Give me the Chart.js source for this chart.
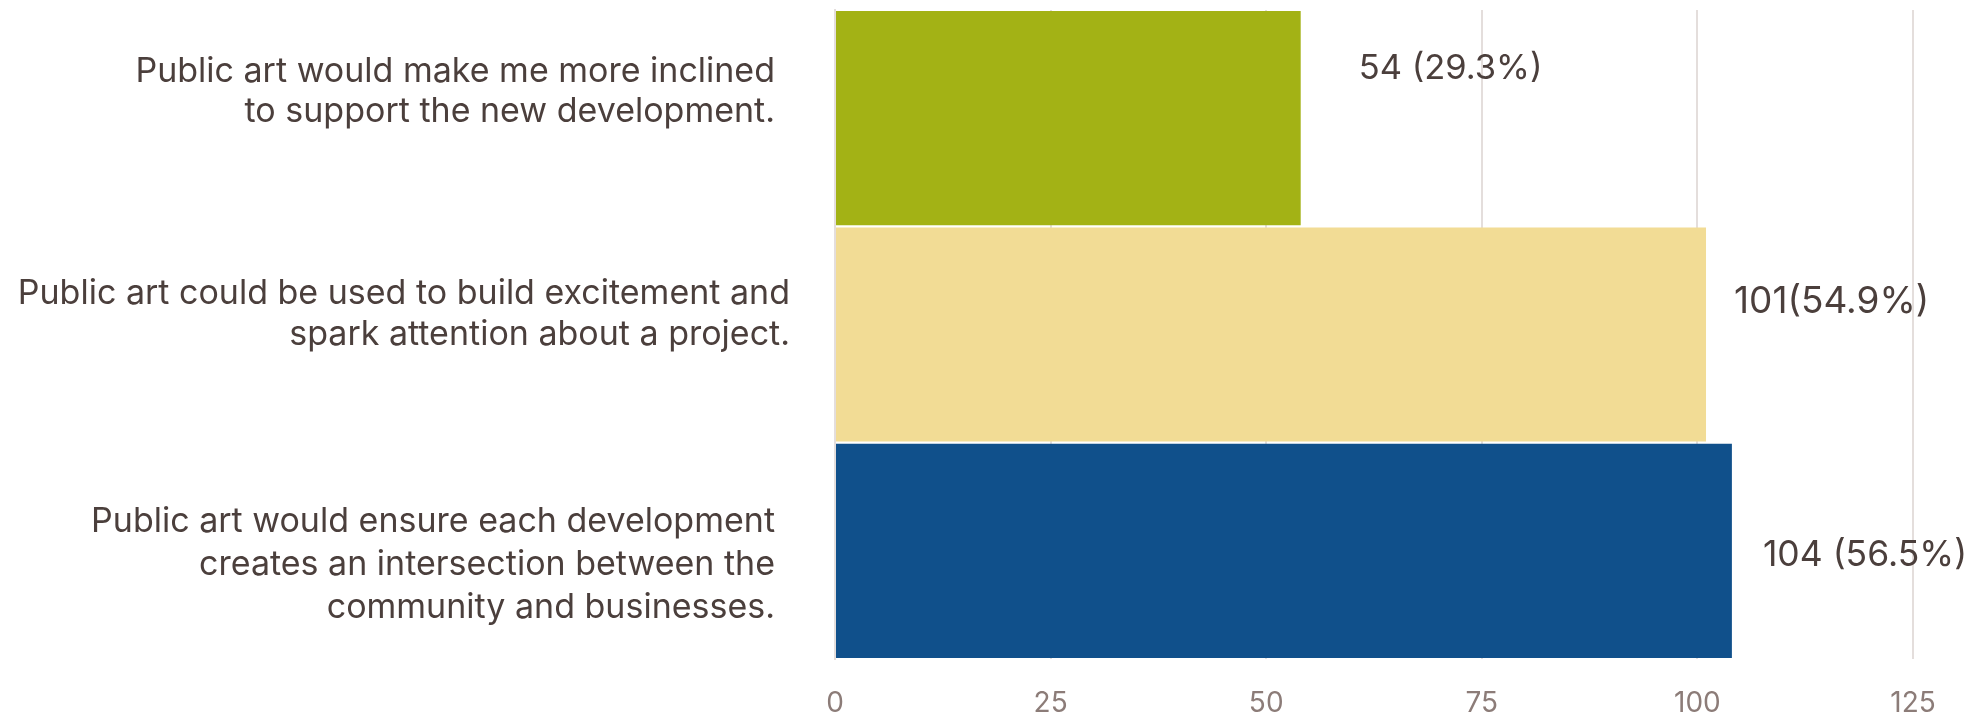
<!DOCTYPE html>
<html>
<head>
<meta charset="utf-8">
<script src="https://cdn.jsdelivr.net/npm/chart.js@4"></script>
<style>
  html, body { margin: 0; padding: 0; background: #ffffff; }
  #wrap { width: 1972px; height: 714px; }
</style>
</head>
<body>
<div id="wrap"><canvas id="chart" width="1972" height="714"></canvas></div>
<script>
// Survey statements (one per bar, top to bottom)
const statements = [
  ['Public art would make me more inclined', 'to support the new development.'],
  ['Public art could be used to build excitement and', 'spark attention about a project.'],
  ['Public art would ensure each development', 'creates an intersection between the', 'community and businesses.']
];
// Number of respondents agreeing
const responses = [54, 101, 104];
// Share of all respondents, in percent
const shares = [29.3, 54.9, 56.5];
// Text between count and share in each value label
const separators = [' ', '', ' '];
// Value axis ticks
const axisMin = 0;
const axisMax = 125;
const axisStep = 25;

const barColors = ['#a3b215', '#f2dc95', '#10508b'];

// Hand-placed text offsets (pixels) relative to each bar
const statementRight = [775, 790, 775];
const statementShiftY = [-26, -20, 14];
const statementLineH = [40, 41, 43];
const valueShift = [[58, -39], [28, -22], [31, 15]];   // dx from bar end, baseline dy from bar centre
const valueSize = [34.5, 37, 35.5];

const textColor = '#4b3f3c';
const FONT = 'Inter, "Liberation Sans", Arial, sans-serif';

const labelPlugin = {
  id: 'barTexts',
  afterDatasetsDraw(chart) {
    const ctx = chart.ctx;
    const meta = chart.getDatasetMeta(0);
    const yScale = chart.scales.y;
    ctx.save();
    ctx.fillStyle = textColor;
    // statements to the left of the bars
    ctx.font = '34px ' + FONT;
    ctx.textAlign = 'right';
    ctx.textBaseline = 'middle';
    statements.forEach((lines, i) => {
      const cy = yScale.getPixelForValue(i) + statementShiftY[i];
      lines.forEach((line, k) => {
        ctx.fillText(line, statementRight[i], cy + (k - (lines.length - 1) / 2) * statementLineH[i]);
      });
    });
    // count and share next to each bar
    ctx.textAlign = 'left';
    ctx.textBaseline = 'alphabetic';
    meta.data.forEach((bar, i) => {
      ctx.font = valueSize[i] + 'px ' + FONT;
      const txt = responses[i] + separators[i] + '(' + shares[i].toFixed(1) + '%)';
      ctx.fillText(txt, bar.x + valueShift[i][0], bar.y + valueShift[i][1]);
    });
    ctx.restore();
  }
};

new Chart(document.getElementById('chart'), {
  type: 'bar',
  data: {
    labels: statements.map(s => s.join(' ')),
    datasets: [{
      data: responses,
      backgroundColor: barColors,
      borderWidth: 0,
      barPercentage: 0.99,
      categoryPercentage: 1.0
    }]
  },
  options: {
    indexAxis: 'y',
    responsive: false,
    animation: false,
    layout: { padding: { top: 10, right: 59, left: 0, bottom: 0 } },
    plugins: {
      legend: { display: false },
      tooltip: { enabled: false }
    },
    scales: {
      x: {
        min: axisMin,
        max: axisMax,
        ticks: {
          stepSize: axisStep,
          color: '#8c7c78',
          font: { family: FONT, size: 28 },
          padding: 28
        },
        grid: { color: '#e4dedc', lineWidth: 2, drawTicks: false },
        border: { display: false },
        afterFit(scale) { scale.height = 55; }
      },
      y: {
        ticks: { display: false },
        grid: { display: false },
        border: { display: true, color: '#e4dedc', width: 2 },
        afterFit(scale) { scale.width = 835; }
      }
    }
  },
  plugins: [labelPlugin]
});
</script>
</body>
</html>
